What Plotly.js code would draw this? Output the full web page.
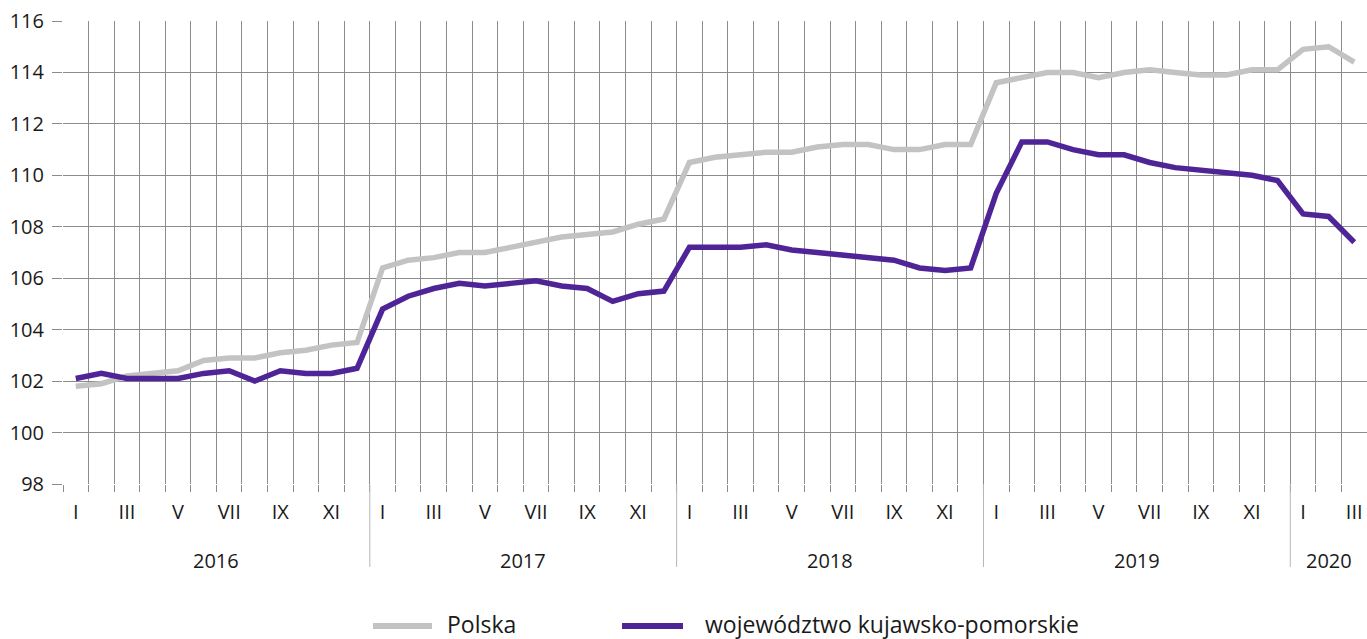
<!DOCTYPE html>
<html>
<head>
<meta charset="utf-8">
<script src="https://cdn.plot.ly/plotly-3.0.1.min.js"></script>
<style>html,body{margin:0;padding:0;background:#fff;}#chart{width:1367px;height:639px;}</style>
</head>
<body>
<div id="chart"></div>
<script>
// ---- data ----
const years = ['2016', '2017', '2018', '2019', '2020'];
const monthsPerYear = [12, 12, 12, 12, 3];
const romanMonths = ['I', 'II', 'III', 'IV', 'V', 'VI', 'VII', 'VIII', 'IX', 'X', 'XI', 'XII'];
const seriesNames = ['Polska', 'województwo kujawsko-pomorskie'];
const polska = [
  101.8, 101.9, 102.2, 102.3, 102.4, 102.8, 102.9, 102.9, 103.1, 103.2, 103.4, 103.5,
  106.4, 106.7, 106.8, 107.0, 107.0, 107.2, 107.4, 107.6, 107.7, 107.8, 108.1, 108.3,
  110.5, 110.7, 110.8, 110.9, 110.9, 111.1, 111.2, 111.2, 111.0, 111.0, 111.2, 111.2,
  113.6, 113.8, 114.0, 114.0, 113.8, 114.0, 114.1, 114.0, 113.9, 113.9, 114.1, 114.1,
  114.9, 115.0, 114.4
];
const kujawsko = [
  102.1, 102.3, 102.1, 102.1, 102.1, 102.3, 102.4, 102.0, 102.4, 102.3, 102.3, 102.5,
  104.8, 105.3, 105.6, 105.8, 105.7, 105.8, 105.9, 105.7, 105.6, 105.1, 105.4, 105.5,
  107.2, 107.2, 107.2, 107.3, 107.1, 107.0, 106.9, 106.8, 106.7, 106.4, 106.3, 106.4,
  109.3, 111.3, 111.3, 111.0, 110.8, 110.8, 110.5, 110.3, 110.2, 110.1, 110.0, 109.8,
  108.5, 108.4, 107.4
];
const yTicks = [98, 100, 102, 104, 106, 108, 110, 112, 114, 116];

// ---- derived ----
const n = polska.length;
const xIdx = [];
for (let i = 0; i < n; i++) xIdx.push(i);
const boundaries = [];
for (let i = 0; i <= n; i++) boundaries.push(i - 0.5);
const labelVals = [], labelText = [];
const yearStarts = [];
let pos = 0;
monthsPerYear.forEach((m) => {
  yearStarts.push(pos);
  for (let k = 0; k < m; k += 2) { labelVals.push(pos + k); labelText.push(romanMonths[k]); }
  pos += m;
});

const FONT = 'Open Sans';
const TXT = '#1a1a1a';
const GRAY = '#c3c3c3';
const PURPLE = '#4f2497';
const GRID = '#8c8c8c';

const traces = [
  { x: xIdx, y: polska, type: 'scatter', mode: 'lines', name: seriesNames[0],
    line: { color: GRAY, width: 5.5 }, xaxis: 'x', yaxis: 'y' },
  { x: xIdx, y: kujawsko, type: 'scatter', mode: 'lines', name: seriesNames[1],
    line: { color: PURPLE, width: 5.5 }, xaxis: 'x', yaxis: 'y' },
  { x: [xIdx[0]], y: [polska[0]], type: 'scatter', mode: 'none', hoverinfo: 'skip',
    showlegend: false, xaxis: 'x2', yaxis: 'y' }
];

const shapes = [];
const annotations = [];
for (let i = 1; i < yearStarts.length; i++) {
  shapes.push({ type: 'line', xref: 'x', yref: 'paper', x0: yearStarts[i] - 0.5, x1: yearStarts[i] - 0.5,
    y0: 0, y1: -0.179, line: { color: '#b5b5b5', width: 1 } });
}
years.forEach((yr, i) => {
  const c = yearStarts[i] + (monthsPerYear[i] - 1) / 2;
  annotations.push({ xref: 'x', yref: 'paper', x: c, y: -0.166, text: yr, showarrow: false,
    xanchor: 'center', yanchor: 'middle', font: { family: FONT, size: 20, color: TXT } });
});
const W = 1304, H = 463, L = 63, B = 484;
const px = v => (v - L) / W;
const py = v => (B - v) / H;
const legendItems = [
  { x0: 373, x1: 432, tx: 445, color: GRAY, text: seriesNames[0] },
  { x0: 622, x1: 683, tx: 703, color: PURPLE, text: seriesNames[1] }
];
legendItems.forEach(it => {
  shapes.push({ type: 'line', xref: 'paper', yref: 'paper', x0: px(it.x0), x1: px(it.x1),
    y0: py(626), y1: py(626), line: { color: it.color, width: 6 } });
  annotations.push({ xref: 'paper', yref: 'paper', x: px(it.tx), y: py(624), text: it.text,
    showarrow: false, xanchor: 'left', yanchor: 'middle', font: { family: FONT, size: 23, color: TXT } });
});

const layout = {
  width: 1367, height: 639,
  margin: { l: 63, r: 0, t: 21, b: 155 },
  paper_bgcolor: '#fff', plot_bgcolor: '#fff',
  showlegend: false,
  font: { family: FONT, size: 20, color: TXT },
  xaxis: {
    range: [-0.5, n - 0.5], tickmode: 'array', tickvals: boundaries, showticklabels: false,
    ticks: 'outside', ticklen: 7, tickcolor: GRID, tickwidth: 1,
    showgrid: true, gridcolor: GRID, gridwidth: 1, zeroline: false, showline: false, fixedrange: true
  },
  xaxis2: {
    overlaying: 'x', side: 'bottom', range: [-0.5, n - 0.5], tickmode: 'array',
    tickvals: labelVals, ticktext: labelText, ticks: 'outside', ticklen: 10,
    tickcolor: 'rgba(0,0,0,0)', showgrid: false, zeroline: false, showline: false,
    tickfont: { family: FONT, size: 20, color: TXT }, fixedrange: true
  },
  yaxis: {
    range: [98, 116], tickmode: 'array', tickvals: yTicks, ticktext: yTicks.map(String),
    ticks: 'outside', ticklen: 10, tickcolor: GRID, tickwidth: 1, ticklabelstandoff: 4,
    showgrid: true, gridcolor: GRID, gridwidth: 1, zeroline: false, showline: false,
    tickfont: { family: FONT, size: 20, color: TXT }, fixedrange: true
  },
  shapes: shapes,
  annotations: annotations
};

Plotly.newPlot('chart', traces, layout, { displayModeBar: false, staticPlot: true });
</script>
</body>
</html>
